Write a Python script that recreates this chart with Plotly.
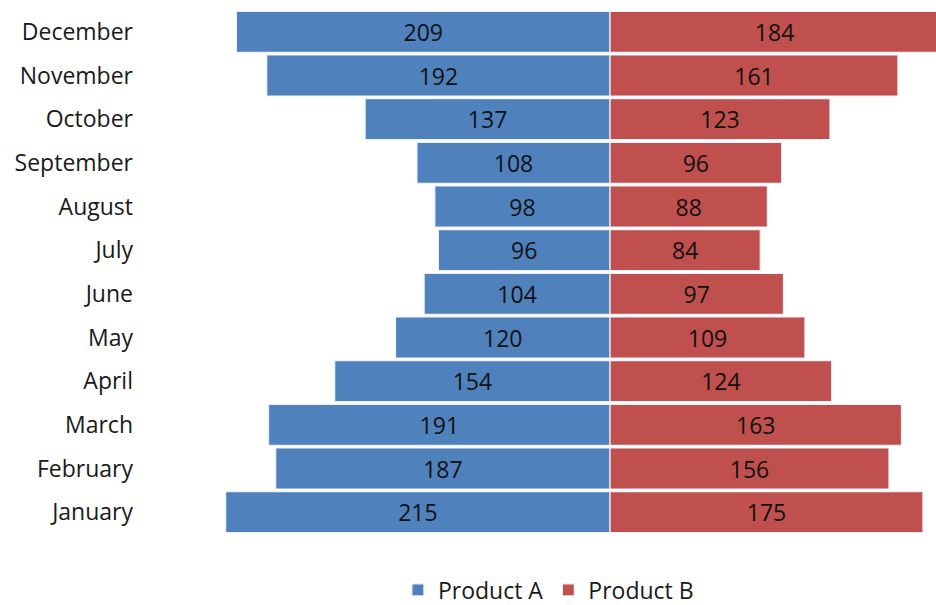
import plotly.graph_objects as go

months = ["January", "February", "March", "April", "May", "June",
          "July", "August", "September", "October", "November", "December"]
product_a = [215, 187, 191, 154, 120, 104, 96, 98, 108, 137, 192, 209]
product_b = [175, 156, 163, 124, 109, 97, 84, 88, 96, 123, 161, 184]

BLUE = "#4F81BD"
RED = "#C0504D"
FONT = "Open Sans"
SIZE = 23

fig = go.Figure()

# Product A drawn to the left of zero, labelled with its positive value
fig.add_trace(go.Bar(
    name="Product A",
    y=months,
    x=[-v for v in product_a],
    orientation="h",
    marker=dict(color=BLUE, line=dict(color="#EEF2F8", width=1.2)),
    text=[str(v) for v in product_a],
    textposition="inside",
    insidetextanchor="middle",
    textfont=dict(family=FONT, size=SIZE, color="#111111"),
    hoverinfo="skip",
))

fig.add_trace(go.Bar(
    name="Product B",
    y=months,
    x=product_b,
    orientation="h",
    marker=dict(color=RED, line=dict(color="#EEF2F8", width=1.2)),
    text=[str(v) for v in product_b],
    textposition="inside",
    insidetextanchor="middle",
    textfont=dict(family=FONT, size=SIZE, color="#111111"),
    hoverinfo="skip",
))

fig.update_layout(
    width=936,
    height=605,
    margin=dict(l=145, r=0, t=10, b=71),
    paper_bgcolor="white",
    plot_bgcolor="white",
    barmode="relative",
    bargap=0.06,
    font=dict(family=FONT, size=SIZE, color="#1a1a1a"),
    showlegend=True,
    legend=dict(
        orientation="h",
        x=0.51,
        xanchor="center",
        xref="paper",
        y=(605 - 590) / 605,
        yref="container",
        yanchor="middle",
        font=dict(family=FONT, size=SIZE, color="#1a1a1a"),
        itemwidth=30,
        traceorder="normal",
    ),
    xaxis=dict(
        range=[-260.1, 182.3],
        showgrid=False,
        zeroline=False,
        showticklabels=False,
        showline=False,
        ticks="",
    ),
    yaxis=dict(
        showgrid=False,
        zeroline=False,
        showline=False,
        ticks="",
        ticklabelstandoff=11,
        tickfont=dict(family=FONT, size=SIZE, color="#1a1a1a"),
    ),
)

fig.write_html("out.html")
